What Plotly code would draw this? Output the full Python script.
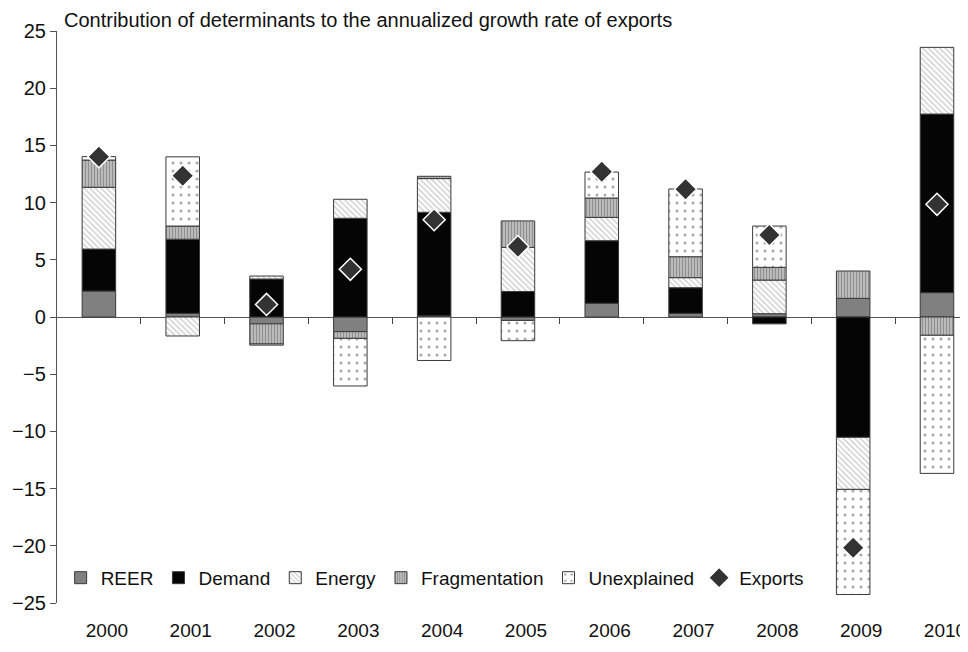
import plotly.graph_objects as go

years = ["2000", "2001", "2002", "2003", "2004", "2005", "2006", "2007", "2008", "2009", "2010"]
reer = [2.27, 0.32, -0.60, -1.28, 0.10, -0.30, 1.20, 0.32, 0.29, 1.63, 2.13]
demand = [3.67, 6.48, 3.32, 8.63, 9.05, 2.23, 5.47, 2.24, -0.60, -10.52, 15.61]
energy = [5.40, -1.66, 0.26, 1.66, 2.95, 3.86, 2.04, 0.88, 2.94, -4.55, 5.83]
fragmentation = [2.38, 1.15, -1.76, -0.59, 0.20, 2.31, 1.69, 1.83, 1.11, 2.39, -1.60]
unexplained = [0.30, 6.05, -0.10, -4.16, -3.80, -1.77, 2.27, 5.92, 3.61, -9.19, -12.07]
exports = [14.0, 12.35, 1.1, 4.17, 8.5, 6.15, 12.7, 11.16, 7.17, -20.17, 9.85]
y_ticks = [25, 20, 15, 10, 5, 0, -5, -10, -15, -20, -25]

FONT = "Liberation Sans, Arial, sans-serif"
outline = dict(color="#3a3a3a", width=1)

fig = go.Figure()
fig.add_trace(go.Bar(x=years, y=reer, name="REER", width=0.4,
                     marker=dict(color="#808080", line=outline)))
fig.add_trace(go.Bar(x=years, y=demand, name="Demand", width=0.4,
                     marker=dict(color="#050505", line=outline)))
fig.add_trace(go.Bar(x=years, y=energy, name="Energy", width=0.4,
                     marker=dict(color="white", line=outline,
                                 pattern=dict(shape="\\", fgcolor="#9a9a9a", bgcolor="white",
                                              size=4, solidity=0.35))))
fig.add_trace(go.Bar(x=years, y=fragmentation, name="Fragmentation", width=0.4,
                     marker=dict(color="#bdbdbd", line=outline,
                                 pattern=dict(shape="|", fgcolor="#555555", bgcolor="#c8c8c8",
                                              size=3, solidity=0.5))))
fig.add_trace(go.Bar(x=years, y=unexplained, name="Unexplained", width=0.4,
                     marker=dict(color="white", line=outline,
                                 pattern=dict(shape=".", fgcolor="#555555", bgcolor="white",
                                              size=8, solidity=0.12))))
fig.add_trace(go.Scatter(x=years, y=exports, name="Exports", mode="markers",
                         marker=dict(symbol="diamond", size=17, color="#333333",
                                     line=dict(color="white", width=1.5))))
# helper axis for the zero-line tick marks between categories
fig.add_trace(go.Scatter(x=[0], y=[0], xaxis="x2", mode="markers",
                         marker=dict(opacity=0), showlegend=False, hoverinfo="skip"))

# the page body adds an 8px offset, so the figure is sized to the visible 960x644 area
fig.update_layout(
    width=960, height=644,
    margin=dict(l=49, r=0, t=23, b=49, autoexpand=False),
    paper_bgcolor="white", plot_bgcolor="white",
    barmode="relative",
    font=dict(family=FONT, size=18, color="#111111"),
    showlegend=True,
    legend=dict(orientation="h", x=0.004, y=0.044, xanchor="left", yanchor="middle",
                traceorder="normal", font=dict(size=19), bgcolor="rgba(0,0,0,0)",
                itemwidth=30, tracegroupgap=0),
    xaxis=dict(type="category", range=[-0.5, 10.37], showline=False, ticks="",
               showgrid=False, zeroline=False, ticklabelshift=8, ticklabelstandoff=14,
               tickfont=dict(size=19), automargin=False),
    xaxis2=dict(overlaying="x", anchor="free", position=0.5, range=[-0.5, 10.37],
                tickvals=[0.5 + i for i in range(10)], ticks="outside", ticklen=6,
                tickcolor="#444444", showticklabels=False, showline=False,
                showgrid=False, zeroline=False, automargin=False),
    yaxis=dict(range=[-25, 25], tickvals=y_ticks, showgrid=False, zeroline=True,
               zerolinecolor="#555555", zerolinewidth=1.2, showline=True,
               linecolor="#555555", linewidth=1.2, ticks="outside", ticklen=6,
               tickcolor="#555555", tickfont=dict(size=20), automargin=False),
    annotations=[dict(text="Contribution of determinants to the annualized growth rate of exports",
                      xref="paper", yref="paper", x=0.005, y=1.0, xanchor="left",
                      yanchor="middle", showarrow=False, yshift=11,
                      font=dict(size=20, family=FONT, color="#111111"))],
)

fig.write_html("out.html")
